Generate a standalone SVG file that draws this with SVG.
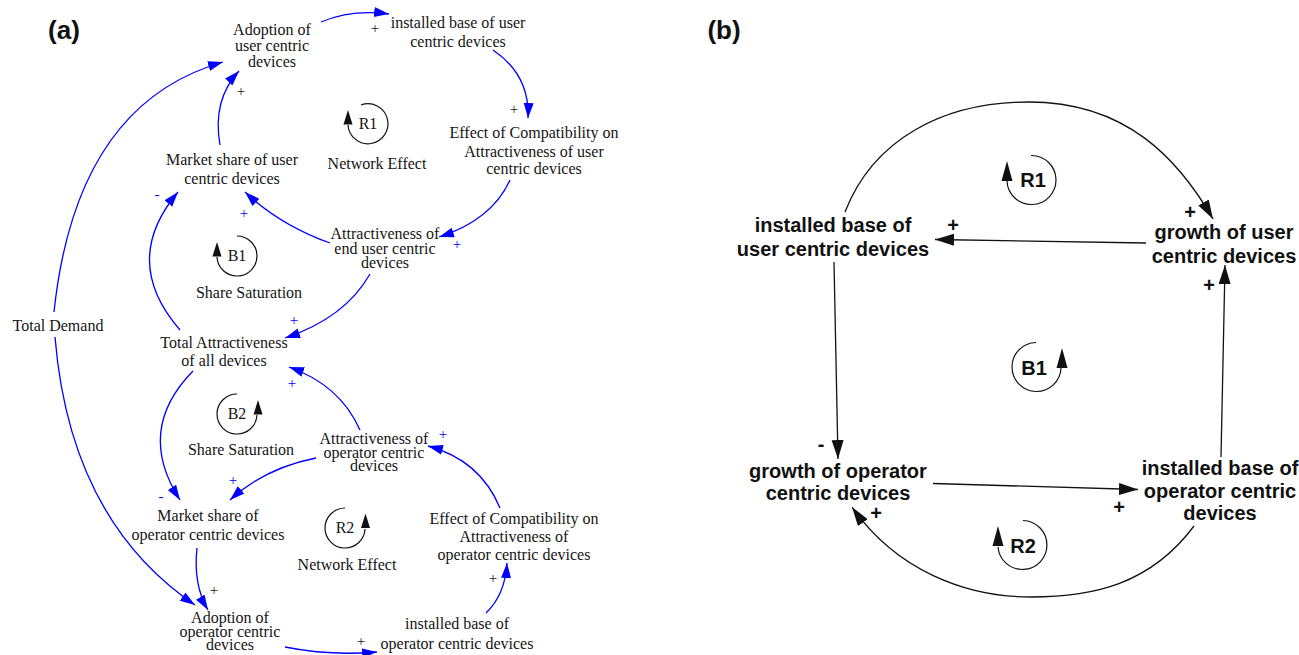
<svg xmlns="http://www.w3.org/2000/svg" width="1299" height="655" viewBox="0 0 1299 655">
  <style>
    .lbl { font-family: "Liberation Serif", "Times New Roman", serif; font-size: 16px; fill: #151515; text-anchor: middle; }
    .pol { font-family: "Liberation Serif", "Times New Roman", serif; font-size: 15px; text-anchor: middle; }
    .blk { fill: #222; }
    .blu { fill: #0000ff; }
    .lblb { font-family: "Liberation Sans", Arial, sans-serif; font-weight: bold; font-size: 20px; fill: #111; text-anchor: middle; }
    .polb { font-family: "Liberation Sans", Arial, sans-serif; font-weight: bold; font-size: 20px; fill: #111; text-anchor: middle; }
    .panel { font-family: "Liberation Sans", Arial, sans-serif; font-weight: bold; font-size: 26px; fill: #111; text-anchor: middle; }
    .link { fill: none; stroke: #0000ff; stroke-width: 1.3; marker-end: url(#arrBlue); }
    .linkb { fill: none; stroke: #111; stroke-width: 1.3; marker-end: url(#arrBlack); }
    .loop { fill: none; stroke: #111; stroke-width: 1.2; }
    .head { fill: #111; }
  </style>
  <defs>
    <marker id="arrBlue" markerUnits="userSpaceOnUse" markerWidth="16" markerHeight="11" refX="15" refY="5" orient="auto">
      <path d="M0,0 L15,5 L0,10 Z" fill="#0000ff"/>
    </marker>
    <marker id="arrBlack" markerUnits="userSpaceOnUse" markerWidth="20" markerHeight="13" refX="19" refY="6" orient="auto">
      <path d="M0,0 L19,6 L0,12 Z" fill="#111"/>
    </marker>
  </defs>
  <rect width="1299" height="655" fill="#ffffff"/>

  <!-- panel captions -->
  <text class="panel" x="64" y="39">(a)</text>
  <text class="panel" x="724" y="39">(b)</text>

  <!-- ===== Panel (a): detailed causal loop diagram ===== -->
  <g id="a-connectors">
    <path class="link" d="M321,22 Q352,9 389,14"/>
    <path class="link" d="M493,50 Q530,75 528,118"/>
    <path class="link" d="M510,180 Q492,220 439,237"/>
    <path class="link" d="M330,243 Q280,225 245,192"/>
    <path class="link" d="M370,274 Q345,318 285,338"/>
    <path class="link" d="M180,330 Q120,261 178,192"/>
    <path class="link" d="M220,145 Q212,100 239,71"/>
    <path class="link" d="M54,312 Q76,104 223,62"/>
    <path class="link" d="M55,337 Q70,520 195,605"/>
    <path class="link" d="M193,371 Q135,430 180,500"/>
    <path class="link" d="M360,430 Q340,385 289,367"/>
    <path class="link" d="M316,458 Q265,468 230,500"/>
    <path class="link" d="M500,508 Q480,460 428,446"/>
    <path class="link" d="M486,613 Q505,595 507,563"/>
    <path class="link" d="M285,647 Q330,656 377,652"/>
    <path class="link" d="M197,548 Q193,585 208,610"/>
  </g>

  <g id="a-polarities">
    <text class="pol blk" x="375" y="33">+</text>
    <text class="pol blk" x="241" y="96">+</text>
    <text class="pol blk" x="514" y="114">+</text>
    <text class="pol blu" x="157" y="199">-</text>
    <text class="pol blu" x="244" y="218">+</text>
    <text class="pol blu" x="457" y="249">+</text>
    <text class="pol blu" x="294" y="325">+</text>
    <text class="pol blu" x="292" y="388">+</text>
    <text class="pol blu" x="443" y="439">+</text>
    <text class="pol blu" x="233" y="485">+</text>
    <text class="pol blu" x="161" y="501">-</text>
    <text class="pol blk" x="214" y="595">+</text>
    <text class="pol blk" x="493" y="583">+</text>
    <text class="pol blk" x="361" y="646">+</text>
  </g>

  <g id="a-adoption-user">
    <text class="lbl" x="272" y="35">Adoption of</text>
    <text class="lbl" x="272" y="51">user centric</text>
    <text class="lbl" x="272" y="67">devices</text>
  </g>
  <g id="a-installed-user">
    <text class="lbl" x="458" y="28">installed base of user</text>
    <text class="lbl" x="458" y="47">centric devices</text>
  </g>
  <g id="a-effect-user">
    <text class="lbl" x="534" y="138">Effect of Compatibility on</text>
    <text class="lbl" x="534" y="157">Attractiveness of user</text>
    <text class="lbl" x="534" y="174">centric devices</text>
  </g>
  <g id="a-share-user">
    <text class="lbl" x="232" y="165">Market share of user</text>
    <text class="lbl" x="232" y="184">centric devices</text>
  </g>
  <g id="a-attr-user">
    <text class="lbl" x="385" y="239">Attractiveness of</text>
    <text class="lbl" x="385" y="254">end user centric</text>
    <text class="lbl" x="385" y="268">devices</text>
  </g>
  <g id="a-total-attr">
    <text class="lbl" x="224" y="348">Total Attractiveness</text>
    <text class="lbl" x="224" y="366">of all devices</text>
  </g>
  <g id="a-total-demand">
    <text class="lbl" x="58" y="331">Total Demand</text>
  </g>
  <g id="a-attr-operator">
    <text class="lbl" x="374" y="444">Attractiveness of</text>
    <text class="lbl" x="374" y="457.5">operator centric</text>
    <text class="lbl" x="374" y="470.5">devices</text>
  </g>
  <g id="a-share-operator">
    <text class="lbl" x="208" y="521">Market share of</text>
    <text class="lbl" x="208" y="540">operator centric devices</text>
  </g>
  <g id="a-effect-operator">
    <text class="lbl" x="514" y="524">Effect of Compatibility on</text>
    <text class="lbl" x="514" y="542">Attractiveness of</text>
    <text class="lbl" x="514" y="560">operator centric devices</text>
  </g>
  <g id="a-adoption-operator">
    <text class="lbl" x="230" y="622.5">Adoption of</text>
    <text class="lbl" x="230" y="636.5">operator centric</text>
    <text class="lbl" x="230" y="649.5">devices</text>
  </g>
  <g id="a-installed-operator">
    <text class="lbl" x="457" y="629">installed base of</text>
    <text class="lbl" x="457" y="649">operator centric devices</text>
  </g>

  <!-- loop markers, panel (a) -->
  <g id="a-loop-R1">
    <path class="loop" d="M361,105 A20,20 0 1 1 348,125"/>
    <path class="head" d="M348,110 L343.5,124.5 L352.5,124.5 Z"/>
    <text class="lbl" x="368" y="129">R1</text>
    <text class="lbl" x="377" y="169">Network Effect</text>
  </g>
  <g id="a-loop-B1">
    <path class="loop" d="M237,236 A20,20 0 1 1 217,257"/>
    <path class="head" d="M217,242 L212.5,256.5 L221.5,256.5 Z"/>
    <text class="lbl" x="237" y="261">B1</text>
    <text class="lbl" x="249" y="298">Share Saturation</text>
  </g>
  <g id="a-loop-B2">
    <path class="loop" d="M237,394 A20,20 0 1 0 257,415"/>
    <path class="head" d="M258,400 L253.5,414.5 L262.5,414.5 Z"/>
    <text class="lbl" x="237" y="419">B2</text>
    <text class="lbl" x="241" y="455">Share Saturation</text>
  </g>
  <g id="a-loop-R2">
    <path class="loop" d="M345,508 A20,20 0 1 0 365,529"/>
    <path class="head" d="M365.5,513.5 L361,528 L370,528 Z"/>
    <text class="lbl" x="345" y="533">R2</text>
    <text class="lbl" x="347" y="570">Network Effect</text>
  </g>

  <!-- ===== Panel (b): aggregated loops ===== -->
  <g id="b-connectors">
    <path class="linkb" d="M845,212 C873,140 942,102 1029,102 C1127,102 1179,160 1213,219"/>
    <path class="linkb" d="M1146,243 L935,239.5"/>
    <path class="linkb" d="M834,262 L838,459"/>
    <path class="linkb" d="M933,483.5 L1138,489.5"/>
    <path class="linkb" d="M1221,457 L1225,265"/>
    <path class="linkb" d="M1194,526 C1150,585 1092,597 1031,597 C965,597 896,570 852,507"/>
  </g>

  <g id="b-polarities">
    <text class="polb" x="1190" y="219">+</text>
    <text class="polb" x="953" y="232">+</text>
    <text class="polb" x="1209" y="292">+</text>
    <text class="polb" x="821" y="451">-</text>
    <text class="polb" x="876" y="520">+</text>
    <text class="polb" x="1119" y="514">+</text>
  </g>

  <g id="b-installed-user">
    <text class="lblb" x="833" y="232">installed base of</text>
    <text class="lblb" x="833" y="256">user centric devices</text>
  </g>
  <g id="b-growth-user">
    <text class="lblb" x="1224" y="239">growth of user</text>
    <text class="lblb" x="1224" y="263">centric devices</text>
  </g>
  <g id="b-growth-operator">
    <text class="lblb" x="838" y="478">growth of operator</text>
    <text class="lblb" x="838" y="500">centric devices</text>
  </g>
  <g id="b-installed-operator">
    <text class="lblb" x="1220" y="475">installed base of</text>
    <text class="lblb" x="1220" y="497.5">operator centric</text>
    <text class="lblb" x="1220" y="520">devices</text>
  </g>

  <!-- loop markers, panel (b) -->
  <g id="b-loop-R1">
    <path class="loop" d="M1031,155.5 A24.5,24.5 0 1 1 1007,181"/>
    <path class="head" d="M1007,161 L1001.5,181 L1012.5,181 Z"/>
    <text class="lblb" x="1033" y="187">R1</text>
  </g>
  <g id="b-loop-B1">
    <path class="loop" d="M1036,342.5 A24.5,24.5 0 1 0 1061,368"/>
    <path class="head" d="M1062,348 L1056.5,368 L1067.5,368 Z"/>
    <text class="lblb" x="1034" y="375">B1</text>
  </g>
  <g id="b-loop-R2">
    <path class="loop" d="M1023,520.5 A24.5,24.5 0 1 1 998,547"/>
    <path class="head" d="M998,526 L992.5,546 L1003.5,546 Z"/>
    <text class="lblb" x="1023" y="553">R2</text>
  </g>
</svg>
